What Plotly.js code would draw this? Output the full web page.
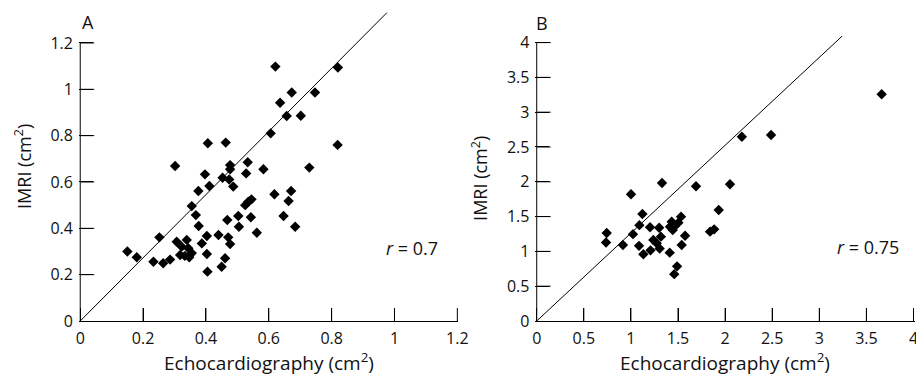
<!DOCTYPE html>
<html><head><meta charset="utf-8">
<script src="https://cdn.plot.ly/plotly-3.0.1.min.js"></script>
<style>html,body{margin:0;padding:0;background:#fff}#chart{width:916px;height:375px}</style>
</head><body><div id="chart"></div>
<script>
// Panel A: echocardiography vs IMRI area (cm^2)
const echoA = [0.150,0.180,0.233,0.252,0.264,0.286,0.302,0.307,0.318,0.323,0.333,0.339,0.344,0.347,0.355,0.355,0.368,0.377,0.376,0.387,0.397,0.403,0.403,0.405,0.406,0.411,0.440,0.450,0.453,0.461,0.463,0.468,0.471,0.474,0.477,0.477,0.477,0.487,0.503,0.505,0.525,0.528,0.533,0.535,0.543,0.545,0.562,0.583,0.606,0.618,0.621,0.636,0.647,0.657,0.663,0.671,0.673,0.684,0.702,0.729,0.747,0.819,0.820];
const mriA  = [0.300,0.275,0.256,0.361,0.249,0.265,0.669,0.342,0.285,0.321,0.281,0.350,0.314,0.275,0.293,0.496,0.457,0.410,0.561,0.335,0.633,0.367,0.289,0.213,0.767,0.583,0.371,0.234,0.618,0.271,0.770,0.436,0.361,0.611,0.332,0.673,0.655,0.580,0.453,0.407,0.500,0.637,0.685,0.515,0.448,0.525,0.381,0.655,0.810,0.547,1.098,0.942,0.453,0.885,0.518,0.561,0.986,0.407,0.886,0.662,0.986,0.760,1.094];
// Panel B
const echoB = [0.743,0.736,0.915,1.001,1.022,1.090,1.122,1.086,1.132,1.203,1.208,1.238,1.300,1.330,1.318,1.274,1.305,1.412,1.415,1.433,1.468,1.504,1.532,1.444,1.575,1.539,1.490,1.460,1.691,1.840,1.884,1.932,2.052,2.178,2.488,3.662];
const mriB  = [1.265,1.128,1.092,1.822,1.248,1.377,1.537,1.080,0.960,1.346,1.015,1.164,1.340,1.982,1.212,1.116,1.040,0.982,1.355,1.427,1.365,1.413,1.499,1.307,1.224,1.092,0.785,0.673,1.935,1.284,1.317,1.595,1.964,2.648,2.672,3.257];
// Reference lines as drawn in the figure
const lineAx = [0, 0.976], lineAy = [0, 1.331];
const lineBx = [0, 3.244], lineBy = [0, 4.095];
// Ticks
const tickA = [0,0.2,0.4,0.6,0.8,1,1.2];
const tickTextA = ['0','0.2','0.4','0.6','0.8','1','1.2'];
const tickB = [0,0.5,1,1.5,2,2.5,3,3.5,4];
const tickTextB = ['0','0.5','1','1.5','2','2.5','3','3.5','4'];
const xTitleText = 'Echocardiography (cm<sup>2</sup>)';
const yTitleText = 'IMRI (cm<sup>2</sup>)';
const rA = '<i>r</i> = 0.7', rB = '<i>r</i> = 0.75';

const FONT = '"Open Sans", sans-serif';
const TXT = '#111';
const W = 916, H = 375;
// axis geometry (paper fractions and ranges)
const geo = {
  A: {xd:[0.0862,0.5003], xr:[-0.004,1.203], yd:[0.144,0.9688], yr:[0,1.335]},
  B: {xd:[0.5845,0.9985], xr:[-0.014,4.012], yd:[0.144,0.905], yr:[0,4.1]}
};
const XTL = 13, YTL = 14; // tick lengths in px
function tickShapes(g, xa, ya, xt, yt){
  const pxPerX = (g.xd[1]-g.xd[0])*W/(g.xr[1]-g.xr[0]);
  const pxPerY = (g.yd[1]-g.yd[0])*H/(g.yr[1]-g.yr[0]);
  const st = {color:'black', width:1};
  const out = [];
  xt.slice(1).forEach(v => out.push({type:'line', xref:xa, yref:ya, x0:v, x1:v, y0:0, y1:XTL/pxPerY, line:st}));
  yt.slice(1).forEach(v => out.push({type:'line', xref:xa, yref:ya, x0:0, x1:YTL/pxPerX, y0:v, y1:v, line:st}));
  out.push({type:'line', xref:xa, yref:ya, x0:0, x1:0, y0:0, y1:yt[yt.length-1], line:st}); // y axis line
  return out;
}

const mk = {symbol:'diamond', size:8, color:'black', line:{width:0}};
const traces = [
  {x:echoA, y:mriA, type:'scatter', mode:'markers', marker:mk, xaxis:'x', yaxis:'y'},
  {x:lineAx, y:lineAy, type:'scatter', mode:'lines', line:{color:'black', width:1}, xaxis:'x', yaxis:'y'},
  {x:echoB, y:mriB, type:'scatter', mode:'markers', marker:mk, xaxis:'x2', yaxis:'y2'},
  {x:lineBx, y:lineBy, type:'scatter', mode:'lines', line:{color:'black', width:1}, xaxis:'x2', yaxis:'y2'}
];
const axBase = {showgrid:false, zeroline:false, ticks:'inside', tickcolor:'black', tickwidth:1,
  ticklabeloverflow:'allow', tickfont:{family:FONT, size:16, color:TXT}, tickmode:'array'};
const yTitle = {text:yTitleText, font:{family:FONT, size:18, color:TXT}, standoff:14};
const layout = {
  width:W, height:H, margin:{l:0,r:0,t:0,b:0}, showlegend:false,
  paper_bgcolor:'white', plot_bgcolor:'rgba(0,0,0,0)', font:{family:FONT, color:TXT},
  xaxis:Object.assign({}, axBase, {domain:geo.A.xd, range:geo.A.xr, anchor:'y',
    tickvals:tickA, ticktext:tickTextA, ticklen:XTL, ticklabelstandoff:3, showline:true, linecolor:'black', linewidth:1}),
  yaxis:Object.assign({}, axBase, {domain:geo.A.yd, range:geo.A.yr, anchor:'x',
    tickvals:tickA, ticktext:tickTextA, ticklen:YTL, ticklabelstandoff:5, showline:false, title:yTitle}),
  xaxis2:Object.assign({}, axBase, {domain:geo.B.xd, range:geo.B.xr, anchor:'y2',
    tickvals:tickB, ticktext:tickTextB, ticklen:XTL, ticklabelstandoff:3, showline:true, linecolor:'black', linewidth:1}),
  yaxis2:Object.assign({}, axBase, {domain:geo.B.yd, range:geo.B.yr, anchor:'x2',
    tickvals:tickB, ticktext:tickTextB, ticklen:YTL, ticklabelstandoff:5, showline:false, title:yTitle}),
  shapes: tickShapes(geo.A, 'x', 'y', tickA, tickA).concat(tickShapes(geo.B, 'x2', 'y2', tickB, tickB)),
  annotations:[
    {text:'A', xref:'paper', yref:'paper', x:88/W, y:1-21.7/H, xanchor:'center', yanchor:'middle', showarrow:false, font:{family:FONT, size:18, color:TXT}},
    {text:'B', xref:'paper', yref:'paper', x:542/W, y:1-22.5/H, xanchor:'center', yanchor:'middle', showarrow:false, font:{family:FONT, size:18, color:TXT}},
    {text:xTitleText, xref:'x domain', yref:'paper', x:0.5, y:1-362/H, xanchor:'center', yanchor:'middle', showarrow:false, font:{family:FONT, size:19, color:TXT}},
    {text:xTitleText, xref:'x2 domain', yref:'paper', x:0.5, y:1-362/H, xanchor:'center', yanchor:'middle', showarrow:false, font:{family:FONT, size:19, color:TXT}},
    {text:rA, xref:'x', yref:'y', x:1.055, y:0.315, showarrow:false, font:{family:FONT, size:18, color:TXT}},
    {text:rB, xref:'x2', yref:'y2', x:3.517, y:1.07, showarrow:false, font:{family:FONT, size:18, color:TXT}}
  ]
};
Plotly.newPlot('chart', traces, layout, {displayModeBar:false, staticPlot:true});
</script></body></html>
